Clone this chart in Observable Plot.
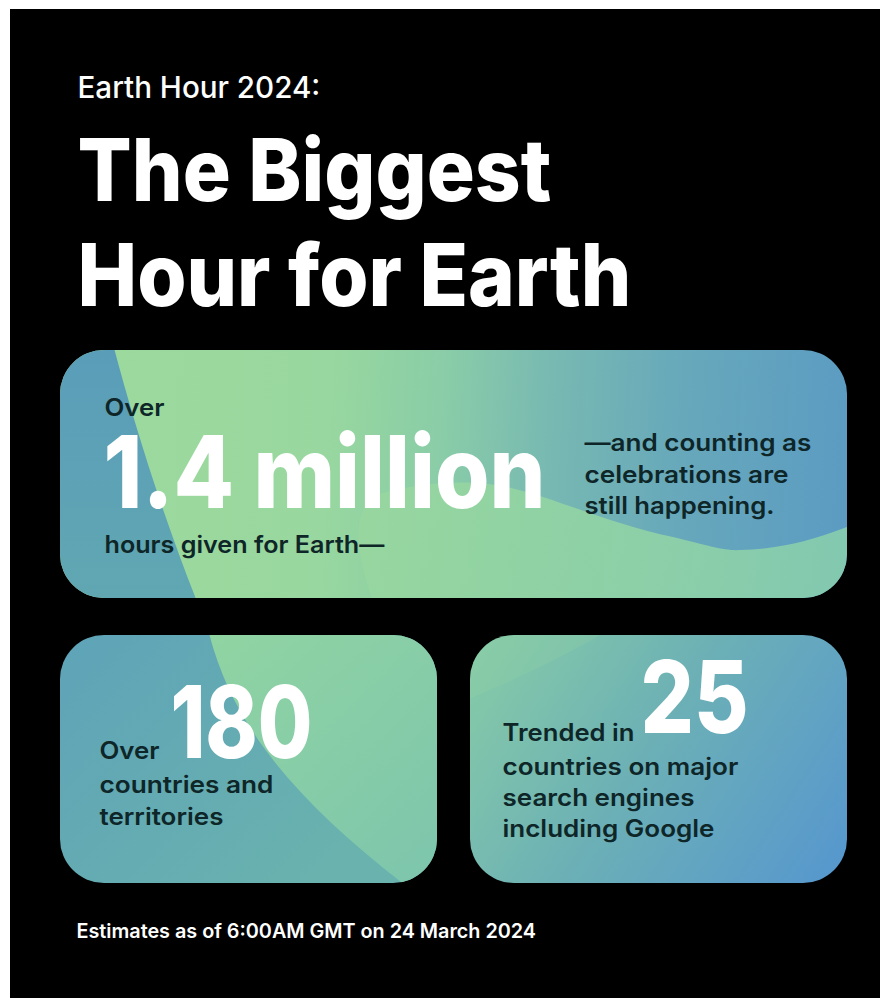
<!DOCTYPE html>
<html>
<head>
<meta charset="utf-8">
<script src="https://cdn.jsdelivr.net/npm/d3@7"></script>
<script src="https://cdn.jsdelivr.net/npm/@observablehq/plot@0.6"></script>
<style>
  html, body { margin: 0; padding: 0; background: #ffffff; }
  #wrap { position: absolute; left: 10px; top: 9px; width: 870px; height: 989px; background: #000; overflow: hidden; }
  #wrap svg { display: block; }
</style>
</head>
<body>
<div id="wrap"></div>
<script>
// ---------- data ----------
const kicker = "Earth Hour 2024:";
const headline = ["The Biggest", "Hour for Earth"];
const statNumbers = [1.4, 180, 25];
const statUnits = ["million", "", ""];
const statLeads = ["Over", "Over", "Trended in"];
const statDetails = [
  ["hours given for Earth—"],
  ["countries and", "territories"],
  ["countries on major", "search engines", "including Google"]
];
const sideNote = ["—and counting as", "celebrations are", "still happening."];
const footnote = "Estimates as of 6:00AM GMT on 24 March 2024";

// ---------- layout ----------
const W = 870, H = 989;
const FONT = "Inter, 'Noto Sans', sans-serif";
const DARK = "#0e2628";
const boxes = [
  {x1: 50, x2: 837, y1: 341, y2: 589},
  {x1: 50, x2: 427, y1: 626, y2: 874},
  {x1: 460, x2: 837, y1: 626, y2: 874}
];
const cards = statNumbers.map((n, i) => ({...boxes[i], i, value: n}));
const numText = statNumbers.map((n, i) => statUnits[i] ? `${n} ${statUnits[i]}` : `${n}`);

const fit = new Map();
const T = (t, x, y, w) => { fit.set(t, w); return {t, x, y}; };

const kickerItems = [T(kicker, 67, 88, 243)];
const headItems = [T(headline[0], 67, 191, 474), T(headline[1], 67, 296, 554)];
const numberItems = [
  T(numText[0], 93, 498, 442),
  T(numText[1], 160, 748, 142),
  T(numText[2], 630, 723, 108)
];
const leadItems = [T(statLeads[0], 94, 406, 59), T(statLeads[1], 89, 749, 60), T(statLeads[2], 492, 731, 132)];
const detailItems = [
  T(statDetails[0][0], 94, 543, 280),
  T(statDetails[1][0], 89, 783, 174),
  T(statDetails[1][1], 89, 815, 124),
  T(statDetails[2][0], 492, 765, 236),
  T(statDetails[2][1], 492, 796, 192),
  T(statDetails[2][2], 492, 827, 212)
];
const sideItems = [T(sideNote[0], 574, 441, 227), T(sideNote[1], 574, 473, 204), T(sideNote[2], 574, 504, 190)];
const footItems = [T(footnote, 66, 928, 460)];

const label = (items, size, weight, fill) => Plot.text(items, {
  x: "x", y: "y", text: "t", fontSize: size, fontWeight: weight, fill,
  fontFamily: FONT, textAnchor: "start", lineAnchor: "bottom"
});

// gradients + clip paths
function defsMark(index, {x, y}) {
  const g = d3.create("svg:g");
  const defs = g.append("defs");
  const lin = (id, a, b, stops) => {
    const lg = defs.append("linearGradient").attr("id", id).attr("gradientUnits", "userSpaceOnUse")
      .attr("x1", x(a[0])).attr("y1", y(a[1])).attr("x2", x(b[0])).attr("y2", y(b[1]));
    stops.forEach(([o, c]) => lg.append("stop").attr("offset", o).attr("stop-color", c));
  };
  lin("card0", [100, 341], [837, 380], [[0, "#9cd99d"], [0.3, "#98d79f"], [0.45, "#8acda7"], [0.6, "#78b9b2"], [0.78, "#67a8bb"], [1, "#5c9cc2"]]);
  lin("card1", [50, 626], [300, 874], [[0, "#5ea3b8"], [1, "#69b2ae"]]);
  lin("card2", [460, 626], [837, 874], [[0, "#88cca7"], [0.45, "#6db1b5"], [1, "#5596cf"]]);
  lin("wave0", [360, 500], [837, 589], [[0, "#97d69f"], [0.6, "#8ccfa8"], [1, "#82c8b0"]]);
  lin("blue0", [100, 341], [100, 589], [[0, "#5a9db9"], [1, "#60a7b2"]]);
  lin("green1", [200, 626], [427, 874], [[0, "#90d4a2"], [1, "#7dc5ad"]]);
  boxes.forEach((b, i) => {
    defs.append("clipPath").attr("id", `clip${i}`).append("rect")
      .attr("x", x(b.x1)).attr("y", y(b.y1)).attr("width", x(b.x2) - x(b.x1)).attr("height", y(b.y2) - y(b.y1))
      .attr("rx", 44);
  });
  return g.node();
}

// decorative shapes inside the cards
function decorMark(index, {x, y}) {
  const p = (a, b) => `${x(a)},${y(b)}`;
  const g = d3.create("svg:g");
  const g0 = g.append("g").attr("clip-path", "url(#clip0)");
  g0.append("path").attr("fill", "url(#wave0)").attr("d",
    `M${p(362, 589)} C${p(345, 540)} ${p(340, 500)} ${p(370, 485)} C${p(420, 470)} ${p(470, 472)} ${p(497, 478)} ` +
    `C${p(540, 487)} ${p(600, 515)} ${p(663, 528)} C${p(700, 537)} ${p(715, 542)} ${p(730, 541)} ` +
    `C${p(770, 540)} ${p(800, 532)} ${p(837, 518)} L${p(850, 518)} L${p(850, 600)} L${p(362, 600)} Z`);
  g0.append("path").attr("fill", "url(#blue0)").attr("d",
    `M${p(40, 335)} L${p(103, 335)} C${p(120, 400)} ${p(150, 500)} ${p(188, 595)} L${p(40, 595)} Z`);
  const g1 = g.append("g").attr("clip-path", "url(#clip1)");
  g1.append("path").attr("fill", "url(#green1)").attr("d",
    `M${p(198, 620)} C${p(222, 720)} ${p(290, 795)} ${p(400, 880)} L${p(440, 880)} L${p(440, 620)} Z`);
  const g2 = g.append("g").attr("clip-path", "url(#clip2)");
  g2.append("path").attr("fill", "#8fd1a6").attr("fill-opacity", 0.3).attr("d",
    `M${p(455, 620)} L${p(600, 620)} C${p(560, 645)} ${p(510, 668)} ${p(455, 692)} Z`);
  return g.node();
}

const chart = Plot.plot({
  width: W, height: H, margin: 0,
  style: {background: "#000", fontFamily: FONT},
  x: {domain: [0, W], range: [0, W], axis: null},
  y: {domain: [0, H], range: [0, H], axis: null},
  marks: [
    defsMark,
    ...cards.map(c => Plot.rect([c], {x1: "x1", x2: "x2", y1: "y1", y2: "y2", rx: 44, fill: `url(#card${c.i})`})),
    decorMark,
    label(kickerItems, 30, 500, "#fff"),
    label(headItems, 87, 800, "#fff"),
    label(numberItems, 100, 800, "#fff"),
    label(leadItems, 24, 600, DARK),
    label(detailItems, 24, 600, DARK),
    label(sideItems, 24, 600, DARK),
    label(footItems, 20, 600, "#fff")
  ]
});

document.getElementById("wrap").append(chart);
// horizontally scale each line (about its start anchor) to the width measured on the reference
chart.querySelectorAll("text").forEach(el => {
  const w = fit.get(el.textContent);
  if (!w) return;
  const k = w / el.getComputedTextLength();
  const tr = el.getAttribute("transform");
  if (tr) {
    el.setAttribute("transform", `${tr} scale(${k},1)`);
  } else {
    const x0 = +(el.getAttribute("x") || 0);
    el.setAttribute("transform", `translate(${x0},0) scale(${k},1) translate(${-x0},0)`);
  }
});
</script>
</body>
</html>
